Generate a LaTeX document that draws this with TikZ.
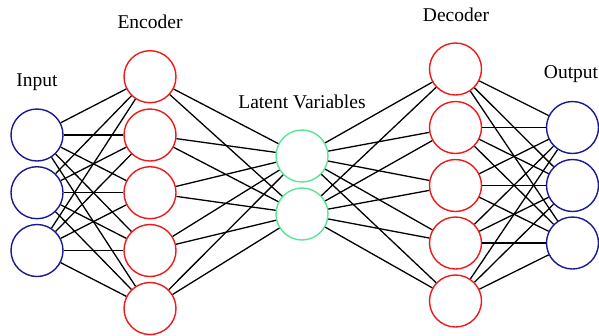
\documentclass[tikz,border=0pt]{standalone}
\usepackage{fontspec}
\setmainfont{Liberation Serif}
\tikzstyle{every path}=[line width=1.3pt]
\tikzstyle{unit}=[circle, minimum size=52pt, inner sep=0pt, line width=1.4pt, draw]
\tikzstyle{layername}=[anchor=base, font=\fontsize{19.5}{22}\selectfont]
\definecolor{inputunit}{RGB}{25,25,150}
\definecolor{hiddenunit}{RGB}{240,25,25}
\definecolor{latentunit}{RGB}{90,228,150}
\begin{document}
\begin{tikzpicture}[x=1pt, y=-1pt]
            \useasboundingbox (0,0) rectangle (599,335);
            % input layer
            \node[unit, draw=inputunit] (in1) at (37,135) {};
            \node[unit, draw=inputunit] (in2) at (37,192.7) {};
            \node[unit, draw=inputunit] (in3) at (37,250.5) {};
            % encoder
            \node[unit, draw=hiddenunit] (enc1) at (150,76.7) {};
            \node[unit, draw=hiddenunit] (enc2) at (150,135) {};
            \node[unit, draw=hiddenunit] (enc3) at (150,192.7) {};
            \node[unit, draw=hiddenunit] (enc4) at (150,250.5) {};
            \node[unit, draw=hiddenunit] (enc5) at (150,308.5) {};
            % latent variables
            \node[unit, draw=latentunit] (lat1) at (302,156) {};
            \node[unit, draw=latentunit] (lat2) at (302,214) {};
            % decoder
            \node[unit, draw=hiddenunit] (dec1) at (455.5,69) {};
            \node[unit, draw=hiddenunit] (dec2) at (455.5,127.5) {};
            \node[unit, draw=hiddenunit] (dec3) at (455.5,185.5) {};
            \node[unit, draw=hiddenunit] (dec4) at (455.5,243) {};
            \node[unit, draw=hiddenunit] (dec5) at (455.5,301) {};
            % output layer
            \node[unit, draw=inputunit] (out1) at (572.5,127.5) {};
            \node[unit, draw=inputunit] (out2) at (572.5,185.5) {};
            \node[unit, draw=inputunit] (out3) at (572.5,243) {};

            \node[layername] (inputlabel) at (37,86) {Input};
            \node[layername] (enclabel) at (150,28) {Encoder};
            \node[layername] (latlabel) at (302,108) {Latent Variables};
            \node[layername] (declabel) at (456,21) {Decoder};
            \node[layername] (outlabel) at (571,78) {Output};

            \foreach \i in {1,2,3}
                \foreach \j in {1,...,5}
                    \draw (in\i) -- (enc\j);
            \foreach \i in {1,...,5}
                \foreach \j in {1,2}
                    \draw (enc\i) -- (lat\j);
            \foreach \i in {1,2}
                \foreach \j in {1,...,5}
                    \draw (lat\i) -- (dec\j);
            \foreach \i in {1,...,5}
                \foreach \j in {1,2,3}
                    \draw (dec\i) -- (out\j);
        \end{tikzpicture}
\end{document}
